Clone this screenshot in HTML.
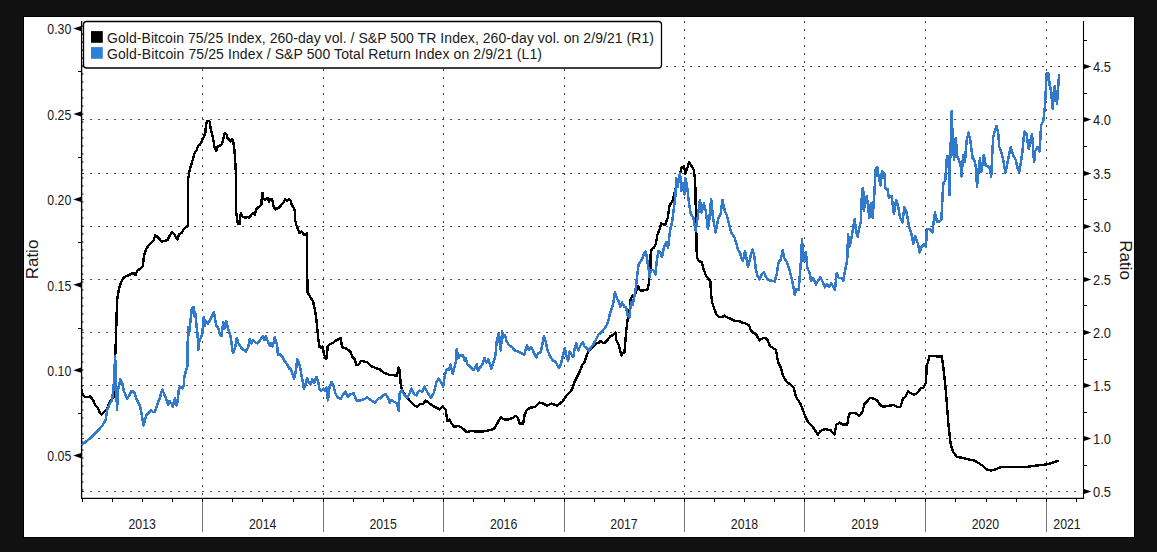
<!DOCTYPE html>
<html><head><meta charset="utf-8">
<style>
html,body{margin:0;padding:0;background:#111;width:1157px;height:552px;overflow:hidden}
svg{display:block}
text{font-family:"Liberation Sans",sans-serif;fill:#1a1a1a}
</style></head><body>
<svg width="1157" height="552" viewBox="0 0 1157 552">
<rect x="0" y="0" width="1157" height="552" fill="#111"/>
<rect x="23.5" y="16.5" width="1111" height="521" fill="#fff" stroke="#000" stroke-width="1"/>
<path d="M82.1 491.5H1082 M82.1 438.5H1082 M82.1 385.5H1082 M82.1 332.5H1082 M82.1 279.5H1082 M82.1 226.5H1082 M82.1 173.5H1082 M82.1 119.5H1082 M82.1 66.5H1082 M202.5 21.0V497.0 M323.5 21.0V497.0 M443.5 21.0V497.0 M564.5 21.0V497.0 M684.5 21.0V497.0 M804.5 21.0V497.0 M925.5 21.0V497.0 M1046.5 21.0V497.0 M82.8 25.0V497.0" stroke="#444" stroke-width="1" stroke-dasharray="2,6" fill="none"/>
<path d="M202.5 498.0V532 M323.5 498.0V532 M443.5 498.0V532 M564.5 498.0V532 M684.5 498.0V532 M804.5 498.0V532 M925.5 498.0V532 M1046.5 498.0V532" stroke="#777" stroke-width="1" fill="none"/>
<path d="M82.5 498.0V502 M112.5 498.0V502 M142.5 498.0V502 M172.5 498.0V502 M202.5 498.0V502 M232.5 498.0V502 M262.5 498.0V502 M293.5 498.0V502 M323.5 498.0V502 M353.5 498.0V502 M383.5 498.0V502 M413.5 498.0V502 M443.5 498.0V502 M473.5 498.0V502 M504.5 498.0V502 M534.5 498.0V502 M564.5 498.0V502 M594.5 498.0V502 M624.5 498.0V502 M654.5 498.0V502 M684.5 498.0V502 M714.5 498.0V502 M744.5 498.0V502 M774.5 498.0V502 M804.5 498.0V502 M834.5 498.0V502 M864.5 498.0V502 M895.5 498.0V502 M925.5 498.0V502 M955.5 498.0V502 M986.5 498.0V502 M1016.5 498.0V502 M1046.5 498.0V502 M1076.5 498.0V502" stroke="#000" stroke-width="1" fill="none"/>
<path d="M78 71.5H82 M78 157.5H82 M78 242.5H82 M78 328.5H82 M78 413.5H82 M1083 465.5H1087 M1083 412.5H1087 M1083 359.5H1087 M1083 305.5H1087 M1083 252.5H1087 M1083 199.5H1087 M1083 146.5H1087 M1083 93.5H1087 M1083 40.5H1087" stroke="#000" stroke-width="1" fill="none"/>
<path d="M81.6 21.0V499.0M81 498.3H1084" stroke="#000" stroke-width="1.3" fill="none"/>
<path d="M1083.5 21.0V499.0" stroke="#000" stroke-width="1.1" fill="none"/>
<path d="M73.3 28.6L81 26.0L81 31.2Z" fill="#000"/>
<text transform="translate(71.3,34.4) scale(0.88,1)" font-size="14" text-anchor="end">0.30</text>
<path d="M73.3 114.0L81 111.4L81 116.6Z" fill="#000"/>
<text transform="translate(71.3,119.8) scale(0.88,1)" font-size="14" text-anchor="end">0.25</text>
<path d="M73.3 199.4L81 196.8L81 202.0Z" fill="#000"/>
<text transform="translate(71.3,205.2) scale(0.88,1)" font-size="14" text-anchor="end">0.20</text>
<path d="M73.3 284.8L81 282.2L81 287.4Z" fill="#000"/>
<text transform="translate(71.3,290.6) scale(0.88,1)" font-size="14" text-anchor="end">0.15</text>
<path d="M73.3 370.2L81 367.6L81 372.8Z" fill="#000"/>
<text transform="translate(71.3,376.0) scale(0.88,1)" font-size="14" text-anchor="end">0.10</text>
<path d="M73.3 455.6L81 453.0L81 458.2Z" fill="#000"/>
<text transform="translate(71.3,461.4) scale(0.88,1)" font-size="14" text-anchor="end">0.05</text>
<path d="M1091.3 491.5L1084 489.1L1084 493.9Z" fill="#000"/>
<text transform="translate(1093,497.1) scale(0.92,1)" font-size="14">0.5</text>
<path d="M1091.3 438.5L1084 436.1L1084 440.9Z" fill="#000"/>
<text transform="translate(1093,444.1) scale(0.92,1)" font-size="14">1.0</text>
<path d="M1091.3 385.5L1084 383.1L1084 387.9Z" fill="#000"/>
<text transform="translate(1093,391.1) scale(0.92,1)" font-size="14">1.5</text>
<path d="M1091.3 332.5L1084 330.1L1084 334.9Z" fill="#000"/>
<text transform="translate(1093,338.1) scale(0.92,1)" font-size="14">2.0</text>
<path d="M1091.3 279.5L1084 277.1L1084 281.9Z" fill="#000"/>
<text transform="translate(1093,285.1) scale(0.92,1)" font-size="14">2.5</text>
<path d="M1091.3 226.5L1084 224.1L1084 228.9Z" fill="#000"/>
<text transform="translate(1093,232.1) scale(0.92,1)" font-size="14">3.0</text>
<path d="M1091.3 173.5L1084 171.1L1084 175.9Z" fill="#000"/>
<text transform="translate(1093,179.1) scale(0.92,1)" font-size="14">3.5</text>
<path d="M1091.3 119.5L1084 117.1L1084 121.9Z" fill="#000"/>
<text transform="translate(1093,125.1) scale(0.92,1)" font-size="14">4.0</text>
<path d="M1091.3 66.5L1084 64.1L1084 68.9Z" fill="#000"/>
<text transform="translate(1093,72.1) scale(0.92,1)" font-size="14">4.5</text>
<text transform="translate(142.2,529.3) scale(0.88,1)" font-size="14" text-anchor="middle">2013</text>
<text transform="translate(262.7,529.3) scale(0.88,1)" font-size="14" text-anchor="middle">2014</text>
<text transform="translate(383.1,529.3) scale(0.88,1)" font-size="14" text-anchor="middle">2015</text>
<text transform="translate(503.6,529.3) scale(0.88,1)" font-size="14" text-anchor="middle">2016</text>
<text transform="translate(624.0,529.3) scale(0.88,1)" font-size="14" text-anchor="middle">2017</text>
<text transform="translate(744.5,529.3) scale(0.88,1)" font-size="14" text-anchor="middle">2018</text>
<text transform="translate(864.9,529.3) scale(0.88,1)" font-size="14" text-anchor="middle">2019</text>
<text transform="translate(985.4,529.3) scale(0.88,1)" font-size="14" text-anchor="middle">2020</text>
<text transform="translate(1067,529.3) scale(0.88,1)" font-size="14" text-anchor="middle">2021</text>
<text transform="translate(38.3,259.5) rotate(-90)" font-size="17" text-anchor="middle">Ratio</text>
<text transform="translate(1119.5,260) rotate(90)" font-size="17" text-anchor="middle">Ratio</text>
<path d="M81.7 389.4 L82.6 394.6 L85.2 397.1 L87.7 397.1 L90.3 396.3 L92.9 399.7 L95.5 405.7 L98.1 408.3 L99.8 412.6 L101.5 414.3 L104.1 411.8 L106.7 410.0 L109.2 403.2 L111.8 398.9 L114.1 396.3 L115.3 355.0 L115.9 340.0 L117.0 302.6 L117.1 300.0 L118.8 289.6 L121.0 282.3 L123.9 277.2 L127.5 275.8 L130.4 274.3 L133.3 272.9 L135.5 275.1 L137.6 270.0 L139.8 269.3 L142.7 266.4 L144.2 254.8 L146.3 249.0 L148.5 245.4 L151.4 242.5 L153.6 240.3 L155.3 235.2 L157.2 236.7 L159.4 238.8 L161.6 241.7 L164.4 241.0 L167.3 240.3 L169.5 235.9 L171.7 232.3 L173.9 233.8 L176.0 237.4 L177.5 239.6 L178.9 234.5 L181.8 233.0 L184.0 228.7 L186.2 227.2 L188.1 225.8 L188.3 178.3 L189.7 170.0 L191.7 163.3 L193.3 157.8 L194.4 153.5 L196.6 150.2 L198.2 145.9 L199.8 144.8 L201.5 141.5 L202.6 138.8 L204.2 136.1 L205.3 132.8 L205.8 127.4 L206.9 120.9 L209.6 121.4 L210.7 128.5 L211.8 132.8 L212.9 137.2 L214.5 147.0 L216.2 150.8 L217.8 145.9 L220.5 145.3 L222.1 143.7 L223.8 137.2 L224.8 132.8 L226.5 134.5 L227.6 138.3 L229.2 139.3 L230.3 141.5 L231.9 139.3 L233.2 141.0 L234.1 147.0 L235.0 156.7 L235.7 170.0 L235.9 185.0 L236.1 211.1 L237.1 219.3 L237.9 224.2 L239.9 224.2 L240.3 216.0 L241.0 212.7 L242.0 216.0 L244.4 217.6 L247.3 217.2 L249.7 217.6 L250.9 215.2 L253.0 213.1 L254.6 214.8 L256.2 209.5 L257.5 207.8 L259.1 207.0 L261.5 204.6 L262.0 192.7 L263.0 193.2 L263.2 198.1 L264.8 199.7 L267.7 198.1 L268.9 201.7 L270.1 199.3 L272.2 199.3 L273.8 207.0 L275.4 209.5 L277.9 207.8 L279.9 207.4 L281.1 204.6 L283.6 202.5 L285.2 199.3 L286.8 200.9 L288.9 198.9 L290.9 200.9 L291.7 204.6 L293.8 207.8 L295.0 211.1 L295.1 220.0 L296.6 225.8 L298.8 230.9 L299.5 233.0 L301.7 231.6 L303.8 234.5 L306.0 235.2 L306.7 233.0 L307.0 256.2 L307.5 292.5 L308.9 294.6 L310.9 298.0 L313.1 301.6 L314.6 308.8 L316.0 316.1 L317.5 330.6 L318.5 340.7 L319.6 347.2 L321.1 348.0 L322.5 346.5 L324.0 353.8 L325.7 358.8 L326.9 358.1 L327.6 346.5 L329.8 344.3 L332.7 342.9 L335.6 340.7 L338.5 339.3 L340.7 337.8 L342.1 347.2 L345.0 348.0 L348.6 350.1 L350.8 352.3 L352.2 356.7 L355.0 359.6 L356.1 365.2 L358.3 365.2 L360.9 360.9 L367.0 362.0 L371.3 366.3 L375.0 367.7 L379.7 369.4 L384.4 373.0 L389.1 374.7 L393.8 375.3 L396.8 375.9 L398.6 367.7 L399.7 370.6 L400.7 383.6 L402.1 390.6 L405.6 395.3 L410.3 401.2 L415.0 405.9 L417.4 406.5 L419.8 404.2 L423.3 403.6 L425.7 400.6 L429.2 403.0 L432.7 405.9 L436.3 407.7 L439.8 409.5 L442.7 406.5 L445.7 409.5 L447.4 421.3 L449.2 419.5 L451.6 423.6 L454.3 427.2 L458.0 425.8 L462.3 428.0 L466.7 432.3 L471.0 430.9 L476.8 431.6 L482.6 431.6 L489.9 430.1 L494.2 428.7 L497.1 423.6 L500.7 417.1 L503.6 419.3 L508.7 419.3 L513.0 417.8 L515.9 415.7 L518.1 418.6 L519.6 423.6 L523.2 423.6 L524.6 414.9 L526.8 409.9 L530.4 407.7 L534.8 407.0 L539.1 402.6 L543.0 403.5 L547.4 405.7 L551.7 403.5 L557.2 405.7 L562.6 401.3 L567.0 394.8 L571.3 390.4 L571.9 390.0 L574.4 382.1 L577.6 375.8 L579.5 372.0 L582.0 365.6 L584.6 361.8 L586.5 356.1 L588.4 351.7 L592.2 347.3 L596.0 343.5 L599.8 342.2 L600.0 340.9 L604.1 343.3 L607.3 340.1 L610.6 336.0 L613.0 335.2 L615.5 332.7 L616.3 340.1 L618.7 345.0 L620.4 351.5 L621.2 355.5 L622.8 353.1 L624.4 353.1 L626.1 331.9 L627.7 318.9 L629.3 317.3 L630.1 301.0 L632.6 295.3 L635.0 294.4 L636.7 289.6 L638.3 286.3 L639.9 290.4 L643.2 290.4 L647.3 289.6 L648.9 283.0 L649.7 273.3 L650.4 268.9 L650.6 254.4 L651.7 249.0 L654.0 247.6 L655.8 243.6 L656.7 239.0 L657.2 235.4 L658.5 231.8 L659.4 230.0 L661.3 223.4 L665.0 225.2 L667.7 218.0 L669.5 205.3 L672.2 201.7 L674.0 195.3 L676.7 183.5 L679.4 176.3 L681.8 167.2 L684.0 166.3 L685.4 173.6 L687.6 167.2 L689.0 161.8 L691.2 165.4 L693.9 170.0 L695.2 181.7 L696.3 232.4 L696.8 256.6 L698.4 260.7 L701.7 262.3 L703.3 268.1 L705.8 275.4 L708.2 278.7 L710.4 281.1 L711.0 294.2 L712.3 303.1 L714.3 308.8 L716.4 314.6 L718.8 316.7 L722.1 317.0 L724.6 315.7 L727.8 317.8 L731.1 319.0 L735.2 321.1 L739.2 321.1 L742.5 322.7 L745.8 323.5 L749.0 325.2 L750.7 330.1 L753.1 332.5 L756.4 334.9 L759.6 340.7 L760.0 340.0 L764.0 337.6 L767.0 339.0 L770.0 346.0 L773.0 348.0 L776.0 350.0 L778.0 361.9 L780.9 367.9 L782.9 375.9 L786.9 381.9 L790.9 384.8 L793.9 387.8 L795.9 396.8 L799.9 402.8 L802.9 409.8 L804.9 415.8 L807.9 421.7 L811.9 425.7 L814.8 429.7 L817.8 434.7 L820.8 430.7 L823.8 429.7 L825.0 429.0 L827.5 429.6 L830.7 430.3 L834.5 434.7 L836.4 424.6 L839.6 422.7 L842.8 424.6 L847.2 424.6 L849.1 413.8 L852.3 413.1 L855.4 413.1 L859.3 415.7 L862.4 411.9 L864.3 404.3 L867.5 401.1 L870.0 397.9 L873.2 398.5 L877.0 400.4 L880.2 404.9 L882.7 406.8 L887.2 406.2 L893.5 404.9 L897.3 406.8 L900.5 406.8 L903.0 398.5 L905.6 396.6 L908.1 391.6 L911.3 393.5 L914.4 394.7 L918.3 392.2 L920.8 387.8 L923.3 387.8 L924.7 385.0 L926.0 383.0 L926.7 365.5 L928.0 362.0 L929.5 356.0 L936.1 356.3 L941.8 356.3 L943.7 370.4 L946.2 395.0 L948.5 425.0 L950.7 444.0 L953.0 452.0 L957.0 456.8 L963.0 458.0 L968.5 459.3 L974.0 460.5 L978.7 463.0 L983.0 466.0 L986.3 469.4 L991.3 470.6 L995.0 469.5 L1001.5 466.8 L1012.0 466.8 L1026.9 466.8 L1037.0 465.5 L1047.2 464.3 L1053.0 462.5 L1058.6 460.5" stroke="#000" stroke-width="2.4" fill="none" stroke-linejoin="round" shape-rendering="crispEdges"/>
<path d="M81.7 445.6 L82.6 444.4 L86.9 441.0 L92.0 436.7 L97.2 431.5 L102.4 425.5 L105.8 419.5 L107.2 410.0 L109.2 404.9 L111.8 400.6 L113.5 389.4 L114.4 372.2 L115.1 356.5 L116.1 380.8 L117.0 410.0 L118.2 389.4 L120.4 379.1 L122.1 382.5 L123.9 391.1 L127.3 398.9 L131.6 391.1 L134.2 392.0 L136.8 399.7 L140.2 406.6 L143.6 425.5 L145.0 420.2 L146.4 414.8 L148.4 413.4 L151.1 410.0 L153.2 412.1 L155.2 411.4 L157.2 405.3 L158.6 400.5 L160.0 398.5 L161.0 392.4 L162.4 389.7 L164.0 393.7 L166.1 398.5 L168.1 405.3 L169.5 401.2 L171.5 403.3 L172.9 407.3 L174.2 399.9 L175.2 398.5 L176.3 405.3 L177.6 401.9 L179.0 388.3 L181.0 386.9 L182.4 388.3 L183.7 385.6 L184.4 376.7 L185.8 371.3 L187.4 365.9 L187.6 360.0 L187.9 327.2 L189.0 334.8 L189.7 328.3 L190.8 317.4 L191.9 308.2 L193.9 307.1 L194.7 316.3 L195.5 314.1 L196.6 327.2 L197.7 335.9 L198.2 350.0 L199.3 341.3 L201.5 336.4 L202.6 332.6 L203.1 318.5 L204.2 317.4 L204.7 326.1 L206.0 320.7 L208.0 323.4 L209.6 320.7 L211.8 316.3 L214.0 312.0 L215.1 318.5 L216.2 326.1 L218.0 327.2 L220.0 334.8 L221.6 335.9 L223.2 321.7 L224.8 328.3 L226.5 321.2 L228.1 329.3 L230.3 334.8 L233.0 353.3 L235.2 347.8 L236.8 338.0 L238.4 343.5 L240.6 346.7 L243.0 349.5 L243.3 349.3 L246.0 351.5 L248.2 347.2 L249.8 339.0 L251.4 343.4 L253.0 340.1 L255.2 342.3 L257.4 343.4 L259.6 340.7 L261.7 337.9 L263.4 336.3 L264.5 340.1 L266.1 336.3 L268.3 342.8 L269.9 346.1 L271.5 342.8 L272.6 346.6 L274.8 337.4 L277.0 345.0 L278.0 354.8 L280.2 354.2 L282.4 357.0 L284.6 361.3 L286.7 363.5 L289.5 368.9 L290.0 368.0 L291.8 371.5 L294.1 378.6 L295.9 370.9 L297.3 359.1 L298.5 361.5 L300.0 366.2 L301.8 376.8 L303.9 388.6 L305.3 385.0 L307.1 378.0 L308.8 382.7 L310.6 384.5 L312.4 379.2 L314.1 382.7 L316.5 376.8 L318.3 382.7 L319.5 389.2 L321.2 390.9 L323.6 388.6 L325.3 390.9 L326.5 387.4 L327.9 400.4 L329.5 387.4 L331.5 382.1 L333.6 386.2 L335.4 393.3 L337.1 396.8 L340.7 399.2 L343.0 394.5 L345.4 391.5 L347.7 396.8 L350.1 394.5 L353.6 393.3 L356.6 400.4 L360.7 400.4 L364.2 399.2 L367.2 397.4 L371.3 400.4 L374.8 402.7 L378.3 398.6 L380.0 398.0 L380.5 398.5 L382.1 395.9 L385.6 394.2 L388.0 397.7 L389.7 403.0 L391.5 400.1 L393.8 401.8 L396.8 403.0 L398.6 410.7 L399.7 393.0 L402.1 390.6 L404.5 395.3 L407.4 397.7 L409.2 394.2 L411.5 388.3 L413.9 394.2 L416.2 395.3 L419.2 390.6 L422.1 391.8 L424.5 386.5 L426.8 391.2 L429.2 395.3 L431.0 397.7 L433.9 393.0 L436.3 382.4 L438.6 378.8 L441.0 382.4 L443.1 386.5 L445.1 374.1 L446.9 368.8 L449.2 369.4 L450.4 364.7 L452.7 374.1 L455.1 364.7 L456.3 360.0 L456.7 349.1 L458.4 358.0 L460.3 355.4 L462.8 355.4 L464.7 360.5 L466.0 358.6 L467.3 364.3 L470.4 366.8 L473.6 370.0 L476.8 364.3 L478.0 370.6 L480.6 366.8 L482.5 364.3 L484.4 358.0 L486.3 362.4 L488.2 359.2 L491.3 368.7 L493.2 363.0 L495.5 355.4 L496.8 340.2 L498.6 333.9 L499.8 342.7 L500.8 350.4 L502.1 331.3 L503.4 337.7 L504.9 335.1 L506.5 340.8 L509.1 345.3 L512.3 347.2 L514.2 350.4 L516.1 351.0 L518.6 351.6 L521.8 353.5 L524.3 354.8 L525.6 349.7 L526.9 345.4 L528.8 349.8 L531.3 347.3 L533.2 351.1 L536.2 357.4 L538.3 353.0 L540.8 352.3 L544.0 335.8 L545.9 342.8 L547.8 351.1 L550.4 356.8 L552.9 360.6 L555.4 361.8 L557.3 365.0 L559.2 368.2 L561.1 363.1 L563.0 355.5 L564.9 347.9 L566.2 355.5 L568.1 360.6 L569.4 351.7 L571.3 354.2 L573.2 356.8 L575.1 346.6 L576.3 343.5 L578.2 350.4 L580.8 344.7 L582.7 342.2 L584.6 346.6 L587.1 348.5 L589.0 350.4 L590.9 347.3 L593.5 344.1 L596.0 339.6 L598.5 334.6 L600.0 333.5 L602.4 331.1 L605.7 327.0 L608.1 322.1 L609.8 314.0 L611.4 309.1 L613.0 305.0 L615.0 292.0 L617.1 299.3 L618.7 301.0 L620.4 306.7 L622.0 302.6 L624.4 306.7 L626.1 307.5 L627.7 315.6 L629.3 317.3 L631.0 302.6 L632.6 305.0 L634.2 296.9 L635.8 287.9 L636.8 278.9 L638.6 264.4 L640.4 261.7 L642.2 259.0 L644.0 253.5 L645.9 251.7 L647.2 259.9 L648.6 268.9 L649.5 277.1 L650.8 269.8 L653.1 269.8 L655.4 274.3 L656.7 261.7 L658.5 250.8 L660.3 252.6 L662.1 257.1 L664.0 247.2 L666.2 241.8 L668.0 248.1 L669.4 235.4 L670.4 228.8 L672.2 221.6 L674.0 207.1 L675.3 196.2 L676.4 178.1 L677.6 187.2 L680.0 172.7 L681.3 190.8 L683.1 183.5 L684.3 194.4 L685.4 178.1 L687.2 187.2 L689.0 203.5 L690.9 214.3 L693.4 218.0 L695.7 230.6 L698.1 214.3 L699.9 199.8 L701.7 212.5 L703.9 203.5 L705.7 210.7 L707.9 228.8 L709.3 219.8 L711.1 198.9 L713.0 217.9 L715.7 232.4 L718.4 217.9 L720.6 214.3 L722.4 199.8 L724.7 210.7 L726.5 214.3 L728.9 223.4 L731.1 232.4 L734.7 237.9 L738.3 250.5 L740.0 252.5 L741.4 258.3 L742.9 260.5 L745.1 251.1 L748.0 267.0 L750.1 258.3 L752.3 249.6 L754.2 255.4 L755.9 269.9 L757.4 275.7 L759.6 279.3 L761.7 274.3 L763.9 272.1 L766.1 277.2 L768.3 280.1 L771.9 280.8 L774.8 281.5 L777.0 272.8 L778.4 262.7 L780.6 259.8 L782.8 250.4 L784.2 258.3 L786.4 261.2 L788.6 267.0 L790.7 274.3 L792.9 284.4 L794.8 294.6 L796.5 288.8 L798.7 290.2 L800.6 265.6 L802.0 239.5 L803.5 261.2 L804.9 255.4 L805.9 251.8 L807.4 268.5 L809.6 272.8 L811.0 280.8 L813.2 277.9 L816.1 284.4 L818.3 280.1 L820.4 277.2 L822.6 281.5 L824.8 287.3 L827.0 284.4 L829.1 287.3 L831.3 283.0 L833.5 287.3 L834.9 290.2 L836.8 272.8 L838.6 277.9 L841.4 277.9 L843.2 280.8 L845.5 268.5 L847.2 260.0 L848.1 234.2 L849.4 246.9 L851.2 239.7 L853.0 228.8 L854.8 218.8 L855.9 230.6 L857.7 236.9 L859.0 228.8 L860.8 221.5 L862.1 189.9 L863.2 188.1 L863.9 210.7 L865.3 199.8 L866.8 196.2 L868.1 207.1 L869.3 217.9 L870.8 203.4 L872.6 217.9 L874.4 192.6 L875.8 168.1 L877.3 167.2 L878.9 178.1 L880.7 185.3 L882.0 170.9 L884.4 173.6 L885.3 188.1 L887.4 189.0 L888.9 198.0 L891.6 196.2 L893.9 214.3 L896.1 199.8 L898.3 207.1 L900.1 217.9 L902.5 222.5 L904.3 207.1 L906.6 212.5 L908.8 225.2 L911.5 234.2 L913.3 244.2 L915.1 236.0 L917.8 243.3 L919.7 252.3 L921.5 246.9 L924.2 244.2 L926.0 246.9 L926.9 228.8 L929.6 228.8 L932.3 232.4 L935.0 212.5 L936.9 221.5 L939.2 221.5 L941.4 219.7 L942.6 194.9 L943.4 182.5 L945.2 180.8 L946.9 156.7 L948.6 155.9 L948.9 177.4 L949.5 194.9 L950.3 156.7 L951.7 111.2 L952.9 146.4 L954.1 160.2 L955.8 137.8 L957.2 156.7 L958.6 159.3 L960.6 165.3 L961.5 176.5 L963.2 155.0 L964.9 161.9 L966.6 141.3 L968.4 132.7 L970.1 138.7 L971.3 148.1 L972.7 158.4 L974.4 160.2 L976.1 168.8 L977.0 186.8 L978.7 168.8 L979.9 158.4 L981.3 172.2 L983.8 155.0 L985.6 165.3 L988.1 166.2 L989.9 168.8 L991.2 176.5 L992.4 151.6 L993.3 136.1 L996.7 125.8 L998.3 133.9 L999.3 147.0 L1001.1 151.3 L1003.3 160.0 L1005.4 173.0 L1008.0 160.0 L1010.7 147.0 L1013.5 155.7 L1015.7 160.0 L1017.8 168.7 L1019.3 172.0 L1022.2 153.5 L1024.3 131.7 L1026.5 133.9 L1028.7 149.1 L1032.0 133.9 L1034.1 162.2 L1035.2 151.3 L1037.4 147.0 L1039.6 151.3 L1041.1 125.2 L1043.3 120.9 L1045.0 105.7 L1046.7 73.0 L1048.3 73.0 L1049.8 86.1 L1051.1 90.4 L1052.6 108.9 L1054.8 86.1 L1057.0 103.5 L1059.1 74.1" stroke="#3079cc" stroke-width="2.5" fill="none" stroke-linejoin="round" shape-rendering="crispEdges"/>
<rect x="83.5" y="21.5" width="578" height="46.5" rx="3" fill="#fff" stroke="#000" stroke-width="1.3"/>
<rect x="91" y="31.1" width="11.8" height="11.7" fill="#000"/>
<rect x="91" y="47.1" width="11.8" height="11.7" fill="#2b80dc"/>
<text x="107" y="43" font-size="14" textLength="547">Gold-Bitcoin 75/25 Index, 260-day vol. / S&amp;P 500 TR Index, 260-day vol. on 2/9/21 (R1)</text>
<text x="107" y="58.6" font-size="14" textLength="435">Gold-Bitcoin 75/25 Index / S&amp;P 500 Total Return Index on 2/9/21 (L1)</text>
</svg>
</body></html>
